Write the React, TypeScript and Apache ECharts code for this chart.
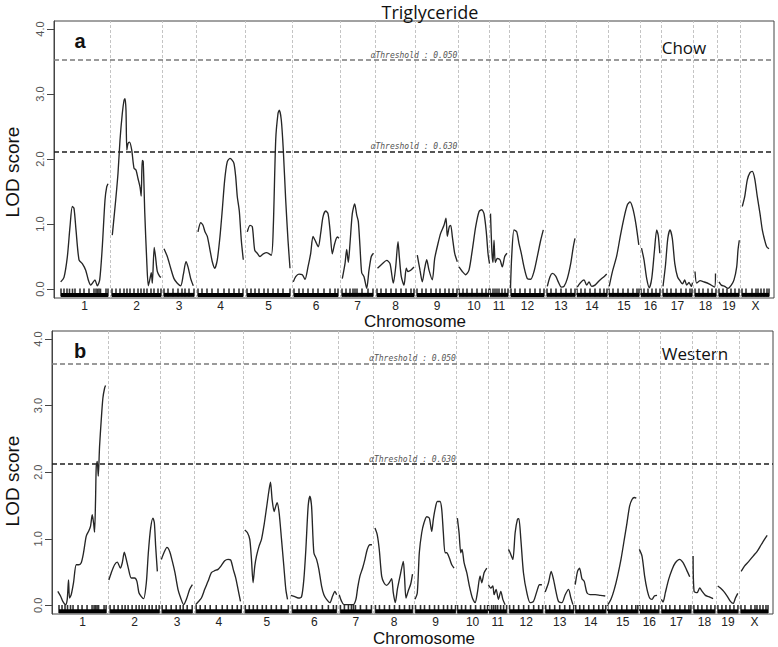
import { useEffect, useRef } from 'react';
import * as echarts from 'echarts';

const chromosomes = ['1','2','3','4','5','6','7','8','9','10','11','12','13','14','15','16','17','18','19','X'];
const chrStart = [7, 58, 110, 144, 193, 240, 288, 323, 363, 405, 436, 457, 493, 523, 555, 587, 609, 641, 665, 688];
const chrEnd = [54, 107, 140, 189, 236, 284, 319, 360, 403, 435, 454, 490, 521, 553, 585, 606, 638, 662, 685, 715];

const markerPos = [
  7, 10, 13, 15.5, 18.5, 21, 26, 30, 35, 40, 42, 43.5, 45, 46.5, 52, 54,
  58, 62, 66, 70, 73, 76, 80, 84, 87, 90, 93, 97, 100, 104, 107,
  110, 114, 119, 124, 128, 131, 135, 140,
  144, 148, 153, 158, 164, 170, 175, 180, 185, 189,
  193, 197, 201, 205, 210, 214, 219, 224, 229, 236,
  240, 245, 249, 254, 259, 264, 270, 276, 281, 284,
  288, 292, 296, 299, 301, 303, 308, 314, 319,
  323, 327, 332, 337, 342, 347, 352, 357, 360,
  363, 368, 372, 377, 382, 386, 391, 395, 399, 403,
  405, 409, 413, 418, 423, 428, 432, 435,
  436, 439, 441, 443, 445, 448, 451, 454,
  457, 461, 466, 471, 476, 481, 486, 490,
  493, 497, 502, 507, 512, 517, 521,
  523, 527, 531, 536, 541, 546, 550, 553,
  555, 559, 564, 569, 574, 579, 583, 585,
  587, 590, 594, 598, 602, 606,
  609, 613, 617, 622, 627, 632, 636, 638,
  641, 645, 649, 654, 658, 662,
  665, 669, 673, 677, 681, 685,
  688, 692, 698, 702, 704, 707, 710, 713, 715,
];

const yTicks = [0, 1, 2, 3, 4];
const thresholdAlpha = ['0.050', '0.630'];
const chowThreshold = [3.52, 2.11];
const westernThreshold = [3.63, 2.12];

const chowLod: number[][][] = [
  [[6.7,0.11],[10,0.18],[13.3,0.49],[16,0.96],[18.3,1.27],[20,1.24],[22,0.91],[25,0.45],[28.3,0.39],[31.7,0.29],[34.3,0.14],[36.7,0.06],[39.3,0.11],[41,0.14],[43.3,0.05],[45.7,0.14],[48.3,0.65],[51,1.37],[52.7,1.57],[54,1.62]],
  [[58.3,0.83],[61.7,1.37],[64,1.78],[66,2.29],[68.3,2.7],[70,2.9],[71,2.93],[72,2.75],[72.8,2.14],[74,2.24],[75.5,2.26],[77.7,2.14],[80,1.86],[82,1.83],[84,1.7],[86,1.57],[87.2,1.43],[88.2,1.98],[89.2,1.96],[90.8,1.16],[92.7,0.45],[94.3,0.05],[96,0.16],[97.3,0.25],[98.3,0.09],[100.2,0.64],[101.5,0.5],[103.3,0.27],[105.5,0.2],[107,0.18]],
  [[110,0.62],[113.3,0.5],[116.7,0.32],[120,0.16],[123.3,0.09],[126.7,0.05],[129.3,0.22],[132,0.42],[134,0.34],[136.7,0.16],[139.3,0.05]],
  [[144,0.88],[146.7,1.02],[149,0.98],[151,0.88],[153.3,0.81],[156,0.6],[158.3,0.42],[160.7,0.32],[163.3,0.45],[166,0.81],[168.3,1.22],[170.7,1.68],[173.3,1.96],[176,2.01],[178.3,1.98],[180,1.93],[181.7,1.73],[183.3,1.42],[185.3,1.2],[187.3,0.75],[189.3,0.45]],
  [[193.3,0.88],[196,0.98],[198.3,0.96],[200.7,0.6],[203.3,0.55],[206,0.5],[209.3,0.54],[212.7,0.56],[217.3,0.52],[219.3,0.96],[221.7,2.29],[224,2.7],[225.3,2.75],[227.3,2.6],[229.3,2.14],[231.7,1.37],[234,0.75],[236,0.32]],
  [[239.3,0.11],[241.7,0.19],[245,0.23],[248.3,0.22],[251,0.15],[254,0.34],[256.7,0.55],[259,0.81],[261.7,0.73],[264.3,0.65],[266.7,0.86],[269,1.11],[271.7,1.2],[274,1.16],[276,0.91],[278.3,0.54],[280.7,0.7],[283.3,0.8],[285,0.78]],
  [[288.3,0.16],[291,0.39],[292.7,0.61],[294.3,0.41],[296,0.7],[298.3,1.16],[300.7,1.31],[302.7,1.14],[304.3,1.04],[306,0.65],[307.7,0.25],[310,0.19],[312.7,0.01],[315,0.29],[317.3,0.5],[319.5,0.55]],
  [[323.5,0.32],[328.3,0.39],[332.7,0.44],[336,0.39],[339.3,0.09],[341.7,0.34],[344,0.73],[345.3,0.5],[347.3,0.19],[350,0.06],[352.3,0.32],[354,0.27],[356.7,0.29],[360,0.34]],
  [[363.3,0.52],[366,0.29],[368.3,0.11],[370.7,0.32],[372.7,0.45],[375,0.29],[378.3,0.14],[380.7,0.47],[384,0.7],[386.7,0.86],[390,0.98],[392,1.09],[393.3,0.81],[395.3,0.96],[396.7,0.98],[398.3,0.81],[400.7,0.55],[403.3,0.42]],
  [[405,0.34],[408.3,0.27],[411.7,0.22],[415,0.29],[418.3,0.6],[421.7,0.96],[425,1.19],[427.7,1.22],[430,1.16],[432.3,0.88],[434,0.55],[435.5,0.39]],
  [[436.5,1.16],[438,0.55],[439,0.41],[440,0.75],[441.3,0.41],[443.3,0.47],[446,0.45],[448.3,0.34],[450.7,0.5],[453,0.55]],
  [[456.5,0.01],[457.7,0.5],[460,0.91],[462.7,0.88],[465,0.7],[467.3,0.55],[470,0.34],[473.3,0.16],[476.7,0.15],[480,0.27],[483.3,0.5],[486.7,0.75],[489.3,0.91]],
  [[493.3,0.04],[496,0.19],[498.3,0.24],[501.7,0.2],[504.3,0.11],[507.3,0.03],[510,0.04],[513.3,0.16],[516.7,0.39],[519.3,0.65],[521,0.78]],
  [[523.3,0.03],[526,0.09],[530,0.14],[532.7,0.06],[535,0.11],[537.7,0.04],[541,0.06],[546,0.14],[550,0.19],[552.7,0.23]],
  [[555.2,0.04],[558.3,0.26],[562.7,0.51],[566.5,0.83],[570.5,1.13],[573.5,1.3],[576,1.34],[578.8,1.24],[581.8,1.01],[584.8,0.68]],
  [[587.5,0.63],[590,0.45],[592.7,0.16],[595.3,0.02],[597.8,0.17],[600.5,0.6],[602.7,0.91],[604.3,0.82],[605.8,0.55]],
  [[609,0.04],[611.5,0.37],[613.8,0.78],[616,0.91],[618.3,0.78],[620.8,0.39],[623.5,0.19],[626.3,0.12],[628.5,0.08],[630.7,0.14],[632.7,0.06],[635,0.1],[637.3,0.04],[638.5,0.1]],
  [[641,0.27],[642.7,0.09],[646,0.13],[650,0.11],[655,0.08],[660.5,0.03],[661.5,0.24]],
  [[665,0.11],[667.3,0.06],[670.7,0.04],[674,0.01],[677.3,0.06],[680,0.14],[682.7,0.34],[684,0.6],[685.3,0.75]],
  [[688.3,1.27],[690.7,1.42],[693.3,1.68],[696,1.79],[698.3,1.81],[700.7,1.7],[703.3,1.42],[706,1.16],[708.3,0.91],[710.7,0.75],[712.7,0.65],[715,0.62]],
];

const westernLod: number[][][] = [
  [[5.8,0.21],[8.5,0.14],[10.8,0.06],[13.5,0.01],[15.2,0.09],[16.5,0.38],[17.5,0.11],[19.2,0.16],[21.5,0.34],[24.2,0.61],[26.8,0.61],[29.2,0.64],[31.5,0.79],[34.2,1.04],[36.8,1.12],[38.5,1.19],[40.2,1.36],[41.5,1.24],[42.5,1.1],[43.5,1.59],[44.2,2.09],[45.2,2.16],[46.2,1.94],[47.5,2.39],[49.2,2.79],[50.8,3.11],[52.5,3.26],[53.5,3.3]],
  [[56.8,0.38],[59.2,0.49],[62.5,0.61],[65.2,0.65],[68.2,0.56],[70.2,0.64],[72.2,0.8],[74.2,0.69],[76.2,0.56],[79.2,0.41],[82.5,0.41],[84.8,0.36],[86.8,0.19],[89.2,0.13],[91.5,0.1],[94.2,0.34],[96.2,0.79],[98.5,1.16],[100.8,1.31],[102.2,1.24],[103.5,0.89],[105.2,0.51]],
  [[109.2,0.69],[111.8,0.79],[114.8,0.87],[117.5,0.81],[120.2,0.66],[122.8,0.49],[125.8,0.24],[128.5,0.11],[131.5,0.01],[134.2,0.09],[137.5,0.24],[140.2,0.31]],
  [[143.5,0.01],[145.8,0.05],[149.2,0.11],[152.5,0.24],[155.8,0.36],[159.2,0.49],[162.5,0.52],[165.8,0.54],[169.2,0.6],[172.5,0.67],[175.8,0.69],[178.5,0.68],[181,0.54],[183.5,0.41],[185.8,0.24],[188.2,0.06]],
  [[192.5,1.13],[195.2,1.09],[197.5,0.99],[199.2,0.69],[200.8,0.34],[202.5,0.59],[204.2,0.74],[206.8,0.89],[209.2,0.99],[211.8,1.21],[214.2,1.46],[216.8,1.74],[218.2,1.85],[219.8,1.59],[221.8,1.41],[223.5,1.49],[224.8,1.54],[226.8,1.39],[229.2,0.99],[231.5,0.59],[233.5,0.24],[235.2,0.09]],
  [[238.5,0.15],[242.5,0.13],[245.8,0.11],[249.2,0.13],[251.5,0.39],[253.5,0.84],[255.8,1.49],[257.5,1.64],[259.2,1.49],[261.5,0.79],[264.2,0.69],[266.5,0.54],[269.2,0.29],[271.5,0.16],[274.2,0.09],[277.5,0.04],[280.2,0.14],[282.5,0.21],[284.2,0.16]],
  [[286.8,0.16],[289.2,0.06],[291.5,0.01],[295.8,0.01],[300.8,0.01],[303.5,0.09],[305.2,0.26],[307.5,0.44],[310.2,0.56],[312.5,0.69],[314.8,0.84],[317.5,0.91],[319.5,0.91]],
  [[322.5,1.16],[324.8,1.06],[326.8,0.84],[329.2,0.44],[331.5,0.34],[334.2,0.3],[336.8,0.34],[339.2,0.4],[340.8,0.19],[342.8,0.04],[345,0.25],[348,0.47],[350.8,0.66],[352,0.44],[353.5,0.11],[355.8,0.22],[358.2,0.32],[360,0.47]],
  [[362.5,0.09],[364.8,0.19],[366.8,0.79],[369.2,1.09],[371.5,1.24],[374.2,1.33],[376.8,1.31],[379.2,1.11],[380.8,1.29],[382.5,1.44],[384.8,1.56],[387.5,1.56],[389.2,1.44],[390.8,1.09],[392.5,0.79],[394.2,0.79],[396.8,0.71],[399.2,0.61],[401.5,0.56]],
  [[404.8,1.31],[406.5,1.09],[408.2,0.79],[409.5,0.84],[411.5,0.64],[414.2,0.49],[416.8,0.29],[419.8,0.11],[422.5,0.04],[424.8,0.19],[427.5,0.44],[429.2,0.34],[431.5,0.49],[434.2,0.56]],
  [[435.8,0.31],[438.2,0.26],[440.2,0.29],[441.5,0.16],[443.5,0.24],[445.8,0.09],[448.2,0.21],[450.2,0.09],[452.5,0.01]],
  [[455.8,0.84],[457.5,0.79],[460.2,0.69],[462.5,1.09],[464.8,1.29],[466.2,1.3],[468.2,0.99],[470.8,0.49],[474.2,0.19],[477.5,0.04],[480.8,0.06],[484.2,0.21],[486.8,0.31],[489.2,0.31]],
  [[492.5,0.2],[495.8,0.34],[498.5,0.51],[500.8,0.39],[503.5,0.19],[505.8,0.06],[509.2,0.04],[512.5,0.16],[515.8,0.24],[518.2,0.11],[520.2,0.01]],
  [[522.5,0.31],[524.8,0.51],[526.8,0.56],[529.2,0.4],[531.5,0.36],[534.2,0.19],[537.5,0.16],[542.5,0.16],[547.5,0.15],[552.5,0.14]],
  [[555.2,0.01],[558.2,0.09],[561.5,0.24],[564.8,0.44],[568.2,0.69],[571.5,0.99],[574.2,1.24],[576.8,1.49],[579.2,1.59],[581.5,1.62],[583.5,1.61]],
  [[586.5,0.84],[589.2,0.74],[591.8,0.44],[594.2,0.24],[596.8,0.11],[599.2,0.09],[601.5,0.14],[604.2,0.15]],
  [[608.5,0.09],[610.2,0.05],[612.5,0.19],[615.8,0.39],[619.2,0.54],[622.5,0.64],[626.8,0.69],[630.2,0.64],[633.5,0.54],[636.8,0.43]],
  [[640.2,0.74],[641.2,0.21],[644.2,0.19],[646.8,0.26],[649.2,0.21],[652.5,0.15],[655.8,0.13],[660.2,0.1]],
  [[664.8,0.29],[667.5,0.26],[670.8,0.21],[674.2,0.14],[677.5,0.06],[680.2,0.03],[682.5,0.11],[684.8,0.18]],
  [[688.2,0.51],[691.5,0.59],[695.8,0.66],[700.2,0.74],[704.2,0.81],[708.2,0.91],[711.5,0.99],[714.2,1.05]],
];

const centers = chrStart.map((s, i) => (s + chrEnd[i]) / 2);
const separators = chrStart.slice(1).map((s, i) => (chrEnd[i] + s) / 2);

function panelSeries(idx: number, lod: number[][][], thresholds: number[]) {
  const series: any[] = [];
  lod.forEach((seg) => {
    series.push({
      type: 'line', xAxisIndex: idx, yAxisIndex: idx, data: seg, showSymbol: false,
      smooth: 0.25, silent: true, z: 5,
      lineStyle: { color: '#262626', width: 1.35 },
    });
  });
  chrStart.forEach((s, i) => {
    series.push({
      type: 'line', xAxisIndex: idx, yAxisIndex: idx,
      data: [[s, -0.09], [chrEnd[i], -0.09]], showSymbol: false, silent: true, z: 3,
      lineStyle: { color: '#000', width: 4 },
    });
  });
  series.push({
    type: 'scatter', xAxisIndex: idx, yAxisIndex: idx,
    data: markerPos.map((p) => [p, -0.055]),
    symbol: 'rect', symbolSize: [1.6, 8], silent: true, z: 3,
    itemStyle: { color: '#000' },
    markLine: {
      symbol: ['none', 'none'], silent: true, animation: false,
      label: { show: false },
      data: [
        ...separators.map((x) => ({ xAxis: x, lineStyle: { color: '#c4c4c4', type: [3, 2], width: 1 } })),
        ...thresholds.map((t, j) => ({
          yAxis: t,
          lineStyle: { color: j === 0 ? '#7a7a7a' : '#1e1e1e', type: [5, 3], width: 1.5 },
          label: {
            show: true, position: 'insideMiddleTop', distance: 1,
            formatter: 'αThreshold : ' + thresholdAlpha[j],
            fontFamily: 'DejaVu Sans Mono', fontStyle: 'italic', fontSize: 8, color: '#555',
          },
        })),
      ],
    },
  });
  return series;
}

function makeAxes(idx: number) {
  const x = {
    type: 'value', gridIndex: idx, min: 0, max: 720,
    axisLine: { show: false }, axisTick: { show: false }, splitLine: { show: false },
    axisLabel: {
      customValues: centers, margin: 2, fontSize: 12, color: '#222', fontFamily: 'Liberation Sans',
      formatter: (v: number) => {
        const k = centers.findIndex((c) => Math.abs(c - v) < 0.01);
        return k >= 0 ? chromosomes[k] : '';
      },
    },
  };
  const y = {
    type: 'value', gridIndex: idx, min: idx === 0 ? -0.138 : -0.13, max: idx === 0 ? 4.123 : 4.12,
    splitLine: { show: false },
    axisLine: { show: true, lineStyle: { color: '#444' } },
    axisTick: { show: true, customValues: yTicks, length: 7, lineStyle: { color: '#444' } },
    axisLabel: {
      customValues: yTicks, rotate: 90, margin: 9, fontSize: 11, color: '#555', fontFamily: 'Liberation Sans',
      formatter: (v: number) => v.toFixed(1),
    },
  };
  return { x, y };
}

export default function App() {
  const ref = useRef<HTMLDivElement>(null);
  useEffect(() => {
    if (!ref.current) return;
    const chart = echarts.init(ref.current, undefined, { renderer: 'svg' });
    const a = makeAxes(0);
    const b = makeAxes(1);
    const textBase = { textAlign: 'center', textVerticalAlign: 'middle', fill: '#111' };
    chart.setOption({
      animation: false,
      backgroundColor: '#fff',
      grid: [
        { left: 54, top: 21, width: 720, height: 277, show: true, borderColor: '#444', borderWidth: 1, backgroundColor: 'transparent' },
        { left: 52, top: 331, width: 721, height: 283, show: true, borderColor: '#444', borderWidth: 1, backgroundColor: 'transparent' },
      ],
      xAxis: [a.x, b.x],
      yAxis: [a.y, b.y],
      series: [...panelSeries(0, chowLod, chowThreshold), ...panelSeries(1, westernLod, westernThreshold)],
      graphic: [
        { type: 'text', x: 430, y: 12, style: { ...textBase, text: 'Triglyceride', font: '18px "Open Sans"' } },
        { type: 'text', x: 80, y: 41, style: { ...textBase, text: 'a', font: 'bold 20px "Liberation Sans"' } },
        { type: 'text', x: 684, y: 47, style: { ...textBase, text: 'Chow', font: '17px "Open Sans"' } },
        { type: 'text', x: 80, y: 351, style: { ...textBase, text: 'b', font: 'bold 20px "Liberation Sans"' } },
        { type: 'text', x: 695, y: 353, style: { ...textBase, text: 'Western', font: '17px "Open Sans"' } },
        { type: 'text', x: 12, y: 172, rotation: Math.PI / 2, style: { ...textBase, text: 'LOD score', font: '19px "Liberation Sans"' } },
        { type: 'text', x: 12, y: 481, rotation: Math.PI / 2, style: { ...textBase, text: 'LOD score', font: '19px "Liberation Sans"' } },
        { type: 'text', x: 415, y: 321, style: { ...textBase, text: 'Chromosome', font: '17px "Liberation Sans"' } },
        { type: 'text', x: 424, y: 638, style: { ...textBase, text: 'Chromosome', font: '17px "Liberation Sans"' } },
      ],
    });
    return () => chart.dispose();
  }, []);
  return <div ref={ref} style={{ position: 'fixed', left: 0, top: 0, width: 778, height: 647 }} />;
}
